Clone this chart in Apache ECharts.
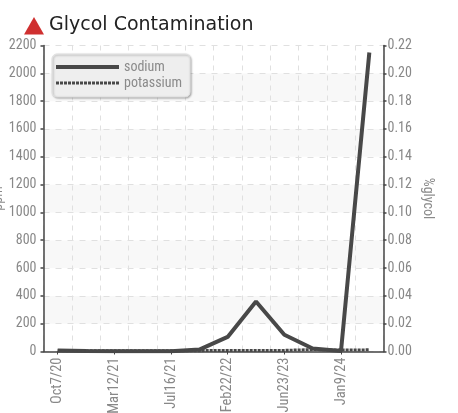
<!DOCTYPE html>
<html><head><meta charset="utf-8">
<style>html,body{margin:0;padding:0;background:#fff}#c{width:458px;height:413px}</style>
<script src="https://cdn.jsdelivr.net/npm/echarts@6/dist/echarts.min.js"></script>
</head><body><div id="c"></div>
<script>
const categories=['Oct7/20','Dec3/20','Mar12/21','May5/21','Jul16/21','Oct4/21','Feb22/22','Aug9/22','Jun23/23','Oct2/23','Jan9/24','Mar14/24'];
const sodium=[8,3,2,2,2,14,105,360,120,22,3,2150];
const potassium=[6,5,5,5,5,6,8,8,8,14,10,12];
const leftTicks={min:0,max:2200,interval:200};
const rightTicks={min:0,max:0.22,interval:0.02};
const titleText='Glycol Contamination';
const font='"Roboto Condensed",Roboto,sans-serif';
const chart=echarts.init(document.getElementById('c'),null,{renderer:'canvas'});
const axisLine={show:true,lineStyle:{color:'#444',width:1.5}};
const axisTick={show:true,length:3,lineStyle:{color:'#444',width:1.5}};
const tickLabel={color:'#888',fontFamily:font,fontSize:14};
const legendHidden={color:'transparent',borderWidth:0,opacity:0};
chart.setOption({
  animation:false,
  backgroundColor:'#fff',
  title:{text:titleText,left:49,top:16,padding:0,textStyle:{fontFamily:'"DejaVu Sans"',fontSize:19,fontWeight:'normal',color:'#222'}},
  graphic:[{type:'polygon',shape:{points:[[34,17],[44,34.5],[24,34.5]]},style:{fill:'#cf3030'}}],
  grid:{left:43.5,right:74.5,top:45.5,bottom:61.5,outerBoundsMode:'none',containLabel:false},
  legend:{
    left:52,top:54,orient:'vertical',padding:[6,8,7,2],itemGap:2,itemWidth:63,itemHeight:14,
    backgroundColor:'#eeeeee',borderRadius:5,borderColor:'#e2e2e2',borderWidth:1,
    shadowColor:'rgba(0,0,0,0.3)',shadowBlur:2,shadowOffsetX:1,shadowOffsetY:1,
    textStyle:{color:'#8a8a8a',fontFamily:font,fontSize:14},
    itemStyle:legendHidden,
    data:[
      {name:'sodium',itemStyle:legendHidden,lineStyle:{width:4,color:'#484848',type:'solid'}},
      {name:'potassium',itemStyle:legendHidden,lineStyle:{width:3,color:'#484848',type:[3,1]}}
    ]
  },
  xAxis:{
    type:'category',data:categories,boundaryGap:true,
    axisLine,
    axisTick:{show:true,alignWithLabel:true,length:3,interval:1,lineStyle:{color:'#444'}},
    axisLabel:{rotate:90,interval:1,color:'#888',fontFamily:font,fontSize:14.5,margin:6},
    splitLine:{show:true,interval:0,lineStyle:{color:'#e0e0e0',type:[5,5],width:1}}
  },
  yAxis:[
    {type:'value',position:'left',name:'ppm',nameLocation:'middle',nameGap:38,nameRotate:90,nameMoveOverlap:false,
      nameTextStyle:{color:'#8a8a8a',fontFamily:font,fontSize:14},
      ...leftTicks,axisLine,axisTick,
      axisLabel:{...tickLabel,margin:7,formatter:v=>String(v)},
      splitLine:{show:true,lineStyle:{color:'#e0e0e0',type:[6,6],width:1}},
      splitArea:{show:true,areaStyle:{color:['#ffffff','#f8f8f8']}}},
    {type:'value',position:'right',name:'%glycol',nameLocation:'middle',nameGap:37,nameRotate:-90,nameMoveOverlap:false,
      nameTextStyle:{color:'#8a8a8a',fontFamily:font,fontSize:14},
      ...rightTicks,axisLine,axisTick,
      splitLine:{show:false},
      axisLabel:{...tickLabel,margin:4,formatter:v=>v.toFixed(2)}}
  ],
  series:[
    {name:'sodium',type:'line',data:sodium,symbol:'none',lineStyle:{color:'#484848',width:4},itemStyle:{color:'#484848'}},
    {name:'potassium',type:'line',data:potassium,symbol:'none',lineStyle:{color:'#484848',width:3,type:[3,1]},itemStyle:{color:'#484848'}}
  ]
});
</script></body></html>
